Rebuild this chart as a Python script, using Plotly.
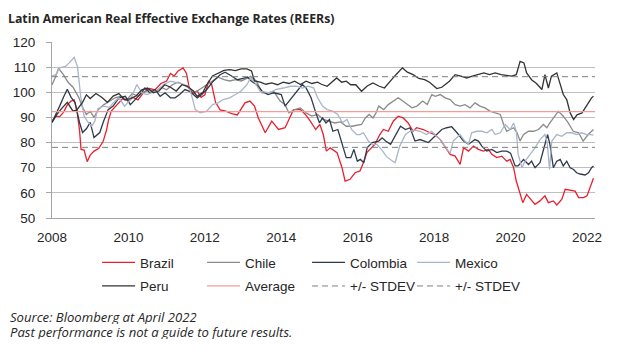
import plotly.graph_objects as go

# ---------------- data (decimal years, index values) ----------------
brazil_t = [2008.0, 2008.1, 2008.2, 2008.3, 2008.4, 2008.5, 2008.58, 2008.65, 2008.72, 2008.76, 2008.84, 2008.92,
            2009.0, 2009.1, 2009.22, 2009.34, 2009.43, 2009.48, 2009.55, 2009.7, 2009.85, 2010.0, 2010.12, 2010.25,
            2010.4, 2010.55, 2010.7, 2010.85, 2011.0, 2011.1, 2011.2, 2011.3, 2011.43, 2011.52, 2011.6, 2011.7,
            2011.8, 2011.9, 2012.0, 2012.1, 2012.18, 2012.28, 2012.4, 2012.55, 2012.7, 2012.85, 2012.95, 2013.05,
            2013.18, 2013.3, 2013.4, 2013.58, 2013.75, 2013.93, 2014.1, 2014.23, 2014.32, 2014.5, 2014.63, 2014.76,
            2014.9, 2015.01, 2015.1, 2015.18, 2015.28, 2015.46, 2015.59, 2015.67, 2015.8, 2015.93, 2016.06, 2016.15,
            2016.24, 2016.32, 2016.45, 2016.58, 2016.67, 2016.8, 2016.93, 2017.06, 2017.19, 2017.32, 2017.45, 2017.54,
            2017.72, 2017.89, 2018.02, 2018.16, 2018.29, 2018.42, 2018.55, 2018.68, 2018.77, 2018.9, 2019.03, 2019.16,
            2019.29, 2019.42, 2019.51, 2019.64, 2019.77, 2019.9, 2019.99, 2020.08, 2020.15, 2020.25, 2020.32, 2020.42,
            2020.55, 2020.64, 2020.77, 2020.9, 2020.99, 2021.12, 2021.21, 2021.34, 2021.43, 2021.56, 2021.69, 2021.78,
            2021.91, 2022.0, 2022.08, 2022.17]
brazil_v = [88.5, 90.5, 90.3, 92.0, 95.0, 96.5, 97.0, 93.0, 85.0, 77.3, 77.0, 72.4,
            75.0, 76.6, 77.6, 80.5, 85.2, 89.0, 92.5, 95.0, 97.5, 96.5, 98.0, 97.0,
            100.0, 101.5, 101.0, 103.5, 104.5, 107.5, 106.5, 108.5, 109.7, 107.5, 101.0, 99.5,
            100.5, 98.0, 99.0, 104.5, 103.0, 96.0, 93.0, 92.5, 91.5, 91.0, 93.5, 95.8,
            96.5, 94.5, 89.8, 83.9, 88.5, 85.2, 85.9, 89.8, 93.1, 93.1, 91.2, 88.5,
            85.2, 87.2, 83.2, 76.6, 77.9, 76.0, 70.0, 64.7, 65.4, 68.0, 68.7, 72.0,
            76.0, 77.3, 79.3, 83.2, 85.2, 84.5, 88.5, 90.5, 89.8, 87.8, 84.5, 85.9,
            85.2, 83.9, 83.2, 81.2, 78.0, 75.3, 74.6, 71.3, 78.0, 76.6, 78.6, 77.3,
            76.6, 77.3, 75.3, 74.0, 74.6, 72.6, 73.3, 70.0, 64.7, 59.4, 56.1, 59.4,
            56.8, 55.4, 56.8, 58.8, 56.1, 56.8, 55.2, 57.4, 61.4, 61.0, 60.7, 58.1,
            58.1, 58.8, 62.1, 65.8]

chile_t = [2008.0, 2008.08, 2008.17, 2008.3, 2008.42, 2008.55, 2008.7, 2008.8, 2008.9, 2009.0, 2009.1, 2009.2,
           2009.35, 2009.5, 2009.65, 2009.8, 2009.95, 2010.1, 2010.25, 2010.4, 2010.55, 2010.7, 2010.85, 2011.0,
           2011.15, 2011.3, 2011.45, 2011.6, 2011.75, 2011.9, 2012.05, 2012.2, 2012.35, 2012.5, 2012.65, 2012.8,
           2012.95, 2013.1, 2013.2, 2013.35, 2013.5, 2013.65, 2013.8, 2013.97, 2014.1, 2014.2, 2014.35, 2014.5,
           2014.65, 2014.8, 2014.95, 2015.1, 2015.25, 2015.4, 2015.55, 2015.7, 2015.85, 2016.0, 2016.1, 2016.2,
           2016.3, 2016.4, 2016.48, 2016.55, 2016.68, 2016.8, 2016.93, 2017.06, 2017.18, 2017.3, 2017.42, 2017.55,
           2017.7, 2017.82, 2017.94, 2018.03, 2018.16, 2018.29, 2018.42, 2018.55, 2018.68, 2018.81, 2018.94, 2019.07,
           2019.2, 2019.33, 2019.46, 2019.6, 2019.73, 2019.82, 2019.9, 2019.99, 2020.08, 2020.17, 2020.25, 2020.34,
           2020.47, 2020.6, 2020.73, 2020.86, 2020.95, 2021.03, 2021.12, 2021.25, 2021.38, 2021.51, 2021.64, 2021.78,
           2021.9, 2022.03, 2022.17]
chile_v = [103.0, 105.7, 109.5, 107.0, 104.0, 102.0, 98.0, 94.0, 91.2, 92.5, 90.0, 93.0,
           95.0, 96.5, 97.8, 98.4, 97.0, 99.5, 98.4, 100.0, 101.0, 100.0, 102.0, 101.0,
           103.0, 104.0, 103.0, 101.5, 100.0, 101.5, 103.0, 104.5, 106.0, 105.0, 104.5, 105.0,
           104.5, 105.5, 106.4, 104.4, 99.8, 99.8, 100.4, 96.5, 95.1, 91.8, 93.1, 93.8,
           91.8, 90.5, 91.2, 89.2, 88.5, 87.8, 88.2, 86.5, 86.5, 86.8, 87.2, 89.8,
           91.2, 89.8, 91.8, 94.5, 93.1, 95.1, 96.5, 97.8, 96.5, 95.1, 93.8, 94.5,
           96.5, 95.1, 99.1, 98.4, 99.1, 97.8, 97.1, 95.1, 94.5, 95.1, 93.8, 95.8,
           94.5, 93.8, 92.5, 91.8, 91.2, 87.2, 84.5, 85.2, 85.9, 83.9, 80.6, 83.2,
           84.5, 84.5, 85.2, 87.2, 85.9, 87.8, 89.8, 92.5, 90.5, 87.8, 84.5, 83.9,
           80.6, 83.2, 85.2]

colombia_t = [2008.0, 2008.1, 2008.2, 2008.3, 2008.4, 2008.5, 2008.6, 2008.72, 2008.8, 2008.9, 2009.0, 2009.1,
              2009.25, 2009.35, 2009.47, 2009.6, 2009.75, 2009.92, 2010.05, 2010.17, 2010.3, 2010.43, 2010.56, 2010.7,
              2010.83, 2010.96, 2011.1, 2011.22, 2011.34, 2011.48, 2011.6, 2011.8, 2011.92, 2012.05, 2012.22, 2012.4,
              2012.53, 2012.7, 2012.85, 2013.0, 2013.12, 2013.22, 2013.36, 2013.5, 2013.65, 2013.8, 2014.0, 2014.1,
              2014.27, 2014.4, 2014.55, 2014.65, 2014.78, 2014.9, 2015.0, 2015.08, 2015.17, 2015.26, 2015.35, 2015.48,
              2015.57, 2015.7, 2015.82, 2015.9, 2015.99, 2016.07, 2016.16, 2016.25, 2016.38, 2016.55, 2016.64, 2016.73,
              2016.86, 2016.99, 2017.12, 2017.25, 2017.37, 2017.5, 2017.63, 2017.85, 2017.98, 2018.2, 2018.33, 2018.46,
              2018.6, 2018.77, 2018.9, 2019.07, 2019.16, 2019.25, 2019.38, 2019.51, 2019.64, 2019.77, 2019.9, 2020.0,
              2020.12, 2020.2, 2020.34, 2020.47, 2020.55, 2020.64, 2020.77, 2020.9, 2020.97, 2021.03, 2021.12, 2021.21,
              2021.3, 2021.38, 2021.47, 2021.56, 2021.65, 2021.73, 2021.82, 2021.95, 2022.04, 2022.12, 2022.17]
colombia_v = [88.0, 91.0, 94.5, 98.0, 101.2, 98.0, 96.0, 88.0, 84.0, 85.5, 88.0, 82.0,
              84.0, 88.5, 93.1, 94.5, 97.8, 98.4, 95.1, 97.0, 99.1, 101.7, 99.8, 101.1,
              98.4, 99.8, 97.8, 97.8, 99.1, 101.1, 100.4, 97.8, 99.1, 101.1, 104.4, 107.0,
              108.0, 106.5, 105.0, 105.5, 106.0, 104.4, 103.0, 100.4, 99.1, 99.8, 99.1, 94.5,
              97.8, 100.4, 103.1, 101.7, 97.8, 92.0, 87.8, 89.8, 87.8, 89.2, 84.5, 85.2,
              80.6, 74.0, 74.0, 77.3, 72.6, 73.3, 72.0, 78.0, 80.0, 80.6, 81.9, 80.6,
              79.3, 83.2, 86.5, 85.2, 85.9, 80.6, 81.2, 80.0, 81.9, 85.2, 85.9, 86.3,
              83.9, 80.6, 79.3, 81.2, 80.6, 78.6, 76.6, 77.3, 76.0, 76.6, 76.6, 75.8,
              70.7, 70.7, 73.3, 71.3, 72.6, 70.0, 72.0, 79.3, 83.2, 79.3, 70.0, 72.6,
              73.3, 70.7, 72.6, 70.0, 69.3, 68.0, 67.5, 67.1, 68.0, 70.0, 70.7]

mexico_t = [2008.0, 2008.1, 2008.2, 2008.35, 2008.45, 2008.58, 2008.67, 2008.75, 2008.84, 2008.92, 2009.04, 2009.12,
            2009.2, 2009.35, 2009.5, 2009.6, 2009.75, 2009.9, 2010.05, 2010.22, 2010.35, 2010.48, 2010.6, 2010.75,
            2010.92, 2011.1, 2011.3, 2011.45, 2011.58, 2011.66, 2011.75, 2011.88, 2012.05, 2012.2, 2012.35, 2012.48,
            2012.65, 2012.8, 2012.95, 2013.1, 2013.2, 2013.3, 2013.45, 2013.7, 2013.85, 2014.05, 2014.25, 2014.4,
            2014.55, 2014.7, 2014.85, 2014.95, 2015.08, 2015.2, 2015.35, 2015.48, 2015.6, 2015.72, 2015.84, 2015.97,
            2016.06, 2016.15, 2016.28, 2016.37, 2016.5, 2016.62, 2016.75, 2016.88, 2016.98, 2017.1, 2017.25, 2017.37,
            2017.5, 2017.63, 2017.8, 2017.93, 2018.06, 2018.2, 2018.3, 2018.42, 2018.5, 2018.68, 2018.8, 2018.9,
            2018.98, 2019.12, 2019.25, 2019.38, 2019.51, 2019.6, 2019.73, 2019.86, 2019.99, 2020.08, 2020.15, 2020.2,
            2020.3, 2020.38, 2020.51, 2020.64, 2020.77, 2020.9, 2020.96, 2021.02, 2021.08, 2021.21, 2021.34, 2021.47,
            2021.6, 2021.73, 2021.86, 2021.99, 2022.1, 2022.17]
mexico_v = [106.5, 107.0, 109.7, 110.3, 111.7, 113.9, 110.0, 98.4, 90.5, 88.5, 86.5, 88.5,
            93.5, 94.5, 94.0, 95.8, 97.8, 94.5, 97.0, 103.1, 99.8, 99.1, 99.8, 100.4,
            103.1, 104.4, 103.7, 103.1, 102.4, 98.4, 93.1, 91.8, 92.5, 95.1, 95.8, 97.1,
            97.8, 99.1, 100.5, 103.0, 105.7, 104.0, 100.4, 99.8, 101.1, 101.7, 102.4, 102.4,
            101.7, 102.4, 101.7, 97.8, 94.5, 93.1, 92.5, 91.2, 88.0, 89.2, 85.2, 83.2,
            83.2, 83.9, 80.6, 79.3, 79.3, 77.3, 74.5, 73.0, 72.0, 78.6, 83.2, 84.5,
            85.0, 84.5, 83.2, 84.5, 82.5, 80.6, 78.0, 75.8, 80.6, 83.2, 80.6, 79.3,
            83.9, 84.5, 84.5, 83.9, 85.2, 83.2, 83.9, 87.2, 85.2, 87.8, 84.5, 75.3,
            70.0, 72.6, 75.3, 77.9, 81.2, 83.2, 80.0, 69.3, 80.6, 83.2, 82.5, 83.9,
            83.9, 83.2, 83.9, 83.2, 83.2, 83.0]

peru_t = [2008.0, 2008.12, 2008.25, 2008.4, 2008.55, 2008.65, 2008.8, 2008.9, 2009.0, 2009.15, 2009.3, 2009.45,
          2009.6, 2009.75, 2009.9, 2010.05, 2010.2, 2010.35, 2010.5, 2010.65, 2010.8, 2010.95, 2011.1, 2011.25,
          2011.4, 2011.55, 2011.7, 2011.8, 2011.95, 2012.05, 2012.2, 2012.35, 2012.5, 2012.65, 2012.8, 2012.95,
          2013.1, 2013.22, 2013.3, 2013.45, 2013.6, 2013.75, 2013.9, 2014.05, 2014.2, 2014.35, 2014.5, 2014.65,
          2014.8, 2014.95, 2015.05, 2015.2, 2015.35, 2015.45, 2015.58, 2015.7, 2015.82, 2015.95, 2016.1, 2016.25,
          2016.4, 2016.55, 2016.7, 2016.85, 2017.0, 2017.17, 2017.3, 2017.45, 2017.6, 2017.75, 2017.88, 2018.07,
          2018.2, 2018.4, 2018.55, 2018.7, 2018.85, 2019.0, 2019.15, 2019.3, 2019.45, 2019.6, 2019.75, 2019.9,
          2020.03, 2020.15, 2020.25, 2020.35, 2020.42, 2020.55, 2020.68, 2020.82, 2020.9, 2020.99, 2021.07, 2021.21,
          2021.3, 2021.38, 2021.47, 2021.56, 2021.65, 2021.74, 2021.87, 2022.0, 2022.12, 2022.17]
peru_v = [88.0, 91.0, 93.5, 96.0, 92.5, 93.0, 96.0, 99.0, 97.5, 99.5, 98.0, 96.0,
          98.5, 99.5, 97.0, 97.5, 98.5, 101.0, 101.7, 99.8, 100.5, 103.0, 102.0, 100.5,
          103.0, 102.4, 100.4, 98.4, 100.0, 103.0, 106.5, 107.7, 108.7, 109.0, 108.6, 109.3,
          109.3, 108.5, 104.5, 104.0, 103.2, 103.7, 103.0, 104.0, 103.5, 104.4, 103.1, 104.4,
          103.5, 104.0, 103.2, 102.4, 104.4, 105.7, 104.0, 104.4, 103.0, 103.0, 100.4, 102.5,
          103.7, 102.5, 101.7, 104.4, 107.0, 109.7, 108.0, 107.0, 105.5, 105.0, 104.0, 101.5,
          102.0, 104.4, 107.0, 106.4, 105.7, 106.4, 107.0, 107.7, 107.0, 107.7, 107.0, 106.7,
          106.4, 107.0, 112.3, 111.7, 107.7, 105.0, 103.5, 101.1, 107.0, 101.7, 106.4, 107.7,
          103.5, 99.1, 97.1, 91.8, 89.2, 91.0, 91.8, 95.1, 97.8, 98.4]

average_level = 92.3
stdev_upper = 106.2
stdev_lower = 78.1

x_tick_years = [2008, 2010, 2012, 2014, 2016, 2018, 2020, 2022]
y_tick_values = [50, 60, 70, 80, 90, 100, 110, 120]

# ---------------- figure ----------------
TITLE_FONT = "Open Sans, Noto Sans, sans-serif"
AXIS_FONT = "Liberation Sans, Arial, sans-serif"
TXT = "#262626"
W, H = 610, 347          # page body has an 8px default margin
x_lo, x_hi = 2008.0, 2022.21
LEG_X0 = 0.146           # container fraction where the legend grid starts
COL_STEP = 105           # px between legend columns

fig = go.Figure()
series = [
    ("Brazil", brazil_t, brazil_v, "#E8202E", "legend"),
    ("Chile", chile_t, chile_v, "#8A8A8A", "legend"),
    ("Colombia", colombia_t, colombia_v, "#2E3A4B", "legend"),
    ("Mexico", mexico_t, mexico_v, "#A9B5C9", "legend"),
    ("Peru", peru_t, peru_v, "#333333", "legend2"),
]
for name, t, v, col, lg in series:
    fig.add_trace(go.Scatter(x=t, y=v, mode="lines", name=name, legend=lg,
                             line=dict(color=col, width=1.3)))

fig.add_trace(go.Scatter(x=[x_lo, x_hi], y=[average_level, average_level], mode="lines",
                         name="Average", legend="legend2", line=dict(color="#F39C9C", width=1.3)))
fig.add_trace(go.Scatter(x=[x_lo, x_hi], y=[stdev_upper, stdev_upper], mode="lines",
                         name="+/- STDEV", legend="legend3",
                         line=dict(color="#7F7F7F", width=1, dash="6px,4px")))
fig.add_trace(go.Scatter(x=[x_lo, x_hi], y=[stdev_lower, stdev_lower], mode="lines",
                         name="+/- STDEV", legend="legend4",
                         line=dict(color="#7F7F7F", width=1, dash="6px,4px")))

legend_common = dict(orientation="h", xref="container", yref="container", x=LEG_X0, xanchor="left",
                     yanchor="top", entrywidth=57, entrywidthmode="pixels", itemwidth=33,
                     traceorder="normal",
                     font=dict(family=AXIS_FONT, size=13.5, color=TXT), bgcolor="rgba(0,0,0,0)",
                     borderwidth=0)
ROW1_Y, ROW2_Y = 0.311, 0.243

fig.update_layout(
    width=W, height=H,
    margin=dict(l=44, r=23, t=34, b=137, autoexpand=False),
    paper_bgcolor="white", plot_bgcolor="white",
    font=dict(family=AXIS_FONT, size=13.5, color=TXT),
    title=dict(text="<b>Latin American Real Effective Exchange Rates (REERs)</b>",
               xref="container", x=0.0, xanchor="left", yref="container", y=0.968, yanchor="middle",
               font=dict(family=TITLE_FONT, size=12.3, color=TXT)),
    showlegend=True,
    legend=dict(legend_common, y=ROW1_Y),
    legend2=dict(legend_common, y=ROW2_Y),
    legend3=dict(legend_common, entrywidth=0, x=LEG_X0 + 2 * COL_STEP / W, y=ROW2_Y),
    legend4=dict(legend_common, entrywidth=0, x=LEG_X0 + 3 * COL_STEP / W, y=ROW2_Y),
    annotations=[
        dict(text="<i>Source: Bloomberg at April 2022</i>", xref="paper", yref="paper",
             x=-0.081, y=-0.557, xanchor="left", yanchor="middle", showarrow=False, height=15,
             font=dict(family=TITLE_FONT, size=13.1, color=TXT)),
        dict(text="<i>Past performance is not a guide to future results.</i>", xref="paper", yref="paper",
             x=-0.081, y=-0.643, xanchor="left", yanchor="middle", showarrow=False, height=15,
             font=dict(family=TITLE_FONT, size=13.1, color=TXT)),
    ],
)

fig.update_xaxes(range=[x_lo, x_hi], tickmode="array", tickvals=x_tick_years,
                 ticktext=[str(y) for y in x_tick_years], showgrid=False, zeroline=False,
                 showline=True, linecolor="#A6A6A6", linewidth=1, ticks="", ticklabelstandoff=7,
                 automargin=False, tickfont=dict(family=AXIS_FONT, size=13.5, color=TXT))
fig.update_yaxes(range=[50, 120], tickmode="array", tickvals=y_tick_values,
                 showgrid=True, gridcolor="#BFBFBF", gridwidth=1, zeroline=False,
                 showline=True, linecolor="#A6A6A6", linewidth=1,
                 ticks="outside", ticklen=5, tickcolor="#A6A6A6", ticklabelstandoff=8,
                 automargin=False, tickfont=dict(family=AXIS_FONT, size=13.5, color=TXT))

fig.write_html("out.html")
